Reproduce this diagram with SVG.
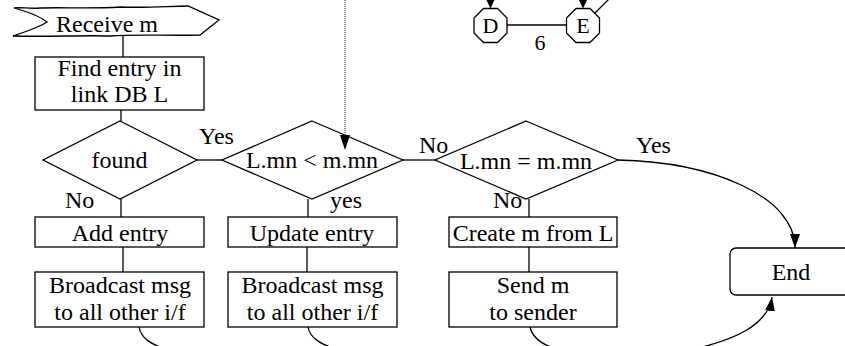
<svg xmlns="http://www.w3.org/2000/svg" width="845" height="346" viewBox="0 0 845 346">
  <style>
    text { font-family: 'Liberation Serif', 'DejaVu Serif', serif; font-size: 24px; fill: #000; }
    .c { text-anchor: middle; }
    .shape { fill: #fff; stroke: #000; stroke-width: 1.3; }
    .line { fill: none; stroke: #000; stroke-width: 1.3; }
    .dot { fill: none; stroke: #333; stroke-width: 1.2; stroke-dasharray: 1 1; }
    .oct text { font-size: 22px; }
  </style>
  <defs>
    <marker id="arrowL" viewBox="0 0 14 10" refX="14" refY="5" markerWidth="14" markerHeight="10" markerUnits="userSpaceOnUse" orient="auto">
      <path d="M0,0 L14,5 L0,10 Z" fill="#000"/>
    </marker>
  </defs>

  <g id="receive">
    <path class="shape" d="M14,8 C20,7 30,9 40,8 C60,7 90,9 120,7 C150,8 170,6 188,6 L219,20 L200,35 C170,36 140,34 110,36 C80,35 50,37 13,36 C25,32 40,27 47,22 C40,16 28,12 14,8 Z"/>
    <text class="c" x="107" y="32">Receive m</text>
  </g>

  <g id="find-entry">
    <rect class="shape" x="35" y="57" width="169" height="53"/>
    <text class="c" x="119.5" y="76">Find entry in</text>
    <text class="c" x="119.5" y="102">link DB L</text>
  </g>

  <g id="found">
    <polygon class="shape" points="120,121 197,160 120,199 43,160"/>
    <text class="c" x="119.5" y="168">found</text>
  </g>

  <g id="less-than">
    <polygon class="shape" points="312,121 403,160 312,199 222,160"/>
    <text class="c" x="312" y="168">L.mn &lt; m.mn</text>
  </g>

  <g id="equal">
    <polygon class="shape" points="526,121 618,160 526,199 435,160"/>
    <text class="c" x="526" y="169">L.mn = m.mn</text>
  </g>

  <g id="add-entry">
    <rect class="shape" x="35" y="217" width="169" height="30"/>
    <text class="c" x="120" y="241">Add entry</text>
  </g>

  <g id="update-entry">
    <rect class="shape" x="228" y="217" width="169" height="30"/>
    <text class="c" x="312" y="241">Update entry</text>
  </g>

  <g id="create-m">
    <rect class="shape" x="449" y="217" width="168" height="30"/>
    <text class="c" x="533" y="241">Create m from L</text>
  </g>

  <g id="broadcast-1">
    <rect class="shape" x="35" y="272" width="169" height="55"/>
    <text class="c" x="120" y="293">Broadcast msg</text>
    <text class="c" x="120" y="320">to all other i/f</text>
  </g>

  <g id="broadcast-2">
    <rect class="shape" x="228" y="272" width="169" height="55"/>
    <text class="c" x="312.5" y="293">Broadcast msg</text>
    <text class="c" x="312.5" y="320">to all other i/f</text>
  </g>

  <g id="send-m">
    <rect class="shape" x="449" y="272" width="168" height="55"/>
    <text class="c" x="533" y="293">Send m</text>
    <text class="c" x="533" y="320">to sender</text>
  </g>

  <g id="end">
    <rect class="shape" x="730" y="248" width="124" height="47" rx="6" ry="6"/>
    <text class="c" x="791" y="280">End</text>
  </g>

  <g id="node-D" class="oct">
    <polygon class="shape" points="483.5,8.5 497.5,8.5 507,18 507,33 497.5,42.5 483.5,42.5 474,33 474,18"/>
    <text class="c" x="490.5" y="33">D</text>
  </g>

  <g id="node-E" class="oct">
    <polygon class="shape" points="576,8.5 590,8.5 599.5,18 599.5,33 590,42.5 576,42.5 566.5,33 566.5,18"/>
    <text class="c" x="583" y="33">E</text>
  </g>

  <!-- connectors, drawn over the node fills -->
  <g id="connectors">
    <line class="line" x1="123" y1="36" x2="123" y2="57"/>
    <line class="line" x1="121" y1="110" x2="121" y2="121"/>
    <line class="line" x1="197" y1="160" x2="222" y2="160"/>
    <line class="line" x1="403" y1="160" x2="435" y2="160"/>
    <line class="line" x1="121" y1="199" x2="121" y2="217"/>
    <line class="line" x1="308" y1="199" x2="308" y2="217"/>
    <line class="line" x1="529" y1="199" x2="529" y2="217"/>
    <line class="line" x1="123" y1="247" x2="123" y2="272"/>
    <line class="line" x1="307" y1="247" x2="307" y2="272"/>
    <line class="line" x1="529" y1="247" x2="529" y2="272"/>
    <!-- dotted incoming arrow -->
    <line class="dot" x1="345" y1="0" x2="345" y2="136"/>
    <path d="M340,135 L350,135 L345,150 Z" fill="#000"/>
    <!-- yes branch to End -->
    <path class="line" d="M618,160 C712,162 795,196 795,248" marker-end="url(#arrowL)"/>
    <!-- return paths from the action boxes -->
    <path class="line" d="M139,327 C141,338 150,344 168,350"/>
    <path class="line" d="M308,327 C310,338 320,344 338,350"/>
    <path class="line" d="M530,327 C533,340 545,346 565,352"/>
    <path class="line" d="M690,350 C735,340 768,325 772,297" marker-end="url(#arrowL)"/>
    <!-- graph edges -->
    <line class="line" x1="507" y1="25" x2="566.5" y2="25"/>
    <line class="line" x1="595" y1="13" x2="610" y2="-2"/>
    <path d="M486,-1 L495,-1 L490.5,8.5 Z" fill="#000"/>
    <path d="M578.5,-1 L587.5,-1 L583,8.5 Z" fill="#000"/>
  </g>

  <!-- labels on connectors -->
  <g id="edge-labels">
    <text x="199" y="144">Yes</text>
    <text x="419" y="153">No</text>
    <text x="636" y="153">Yes</text>
    <text x="65" y="208">No</text>
    <text x="330" y="208">yes</text>
    <text x="493" y="208">No</text>
    <text class="c" x="540" y="50" style="font-size:22px">6</text>
  </g>
</svg>
